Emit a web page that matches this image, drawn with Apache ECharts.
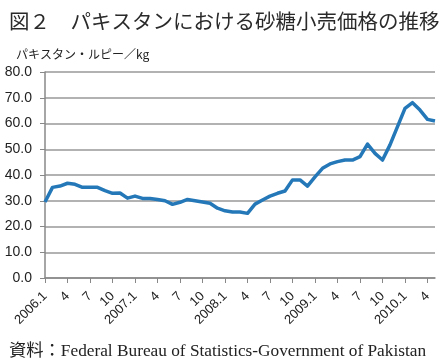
<!DOCTYPE html>
<html><head><meta charset="utf-8">
<script src="https://cdn.jsdelivr.net/npm/echarts@6/dist/echarts.min.js"></script>
<style>html,body{margin:0;padding:0;background:#fff}#c{width:443px;height:361px}</style>
</head><body><div id="c"></div>
<script>
const months = [];
for (let y = 2006; y <= 2010; y++) for (let m = 1; m <= 12; m++) { if (y === 2010 && m > 5) break; months.push(y + '.' + m); }
const categories = months;
const prices = [29.5,35.2,35.7,36.8,36.4,35.2,35.2,35.2,33.9,32.9,33.0,31.0,
  31.8,30.9,30.9,30.5,30.0,28.6,29.4,30.5,30.0,29.5,29.0,27.1,
  26.1,25.6,25.6,25.1,28.7,30.3,31.8,32.9,33.8,38.1,38.1,35.7,
  39.3,42.6,44.3,45.2,45.8,45.8,47.1,52.0,48.4,45.8,51.7,58.8,
  65.9,68.1,65.2,61.6,61.0];
const yTicks = [0,10,20,30,40,50,60,70,80];
const titleText = '図２　パキスタンにおける砂糖小売価格の推移';
const unitText = 'パキスタン・ルピー／kg';
const sourceText = '資料：Federal Bureau of Statistics-Government of Pakistan';

const chart = echarts.init(document.getElementById('c'), null, {renderer:'canvas'});
chart.setOption({
  animation:false,
  backgroundColor:'#fff',
  title:[
    {text:titleText,left:4,top:6,textStyle:{fontFamily:'Noto Sans CJK JP',fontWeight:'normal',fontSize:20.5,color:'#2a2a2a'}},
    {text:unitText,left:11,top:43,textStyle:{fontFamily:'Noto Sans CJK JP',fontWeight:'normal',fontSize:12,color:'#222'}},
    {text:sourceText,left:4,top:338,textStyle:{fontFamily:'Liberation Serif, Noto Sans CJK JP',fontWeight:'normal',fontSize:17.3,color:'#222'}}
  ],
  grid:{left:45,right:8,top:72,bottom:83,containLabel:false},
  xAxis:{
    type:'category',data:categories,boundaryGap:false,
    axisLine:{lineStyle:{color:'#888',width:1.5}},
    axisTick:{interval:2,length:5,lineStyle:{color:'#888'}},
    axisLabel:{interval:2,rotate:45,fontSize:13,fontFamily:'Liberation Sans',color:'#222',margin:16,
      formatter:function(v){const p=v.split('.');return p[1]==='1'?v:p[1];}},
    splitLine:{show:false}
  },
  yAxis:{
    type:'value',min:0,max:80,interval:10,
    axisLine:{show:true,lineStyle:{color:'#888',width:1.5}},
    axisTick:{show:true,length:5,lineStyle:{color:'#888'}},
    axisLabel:{fontSize:14,fontFamily:'Liberation Sans',color:'#222',margin:13,
      formatter:function(v){return yTicks.indexOf(v)>=0?v.toFixed(1):'';}},
    splitLine:{lineStyle:{color:'#999',width:1.5}}
  },
  series:[{type:'line',data:prices,symbol:'none',smooth:false,
    lineStyle:{color:'#2478b8',width:3.5,join:'round'}}]
});
</script></body></html>
